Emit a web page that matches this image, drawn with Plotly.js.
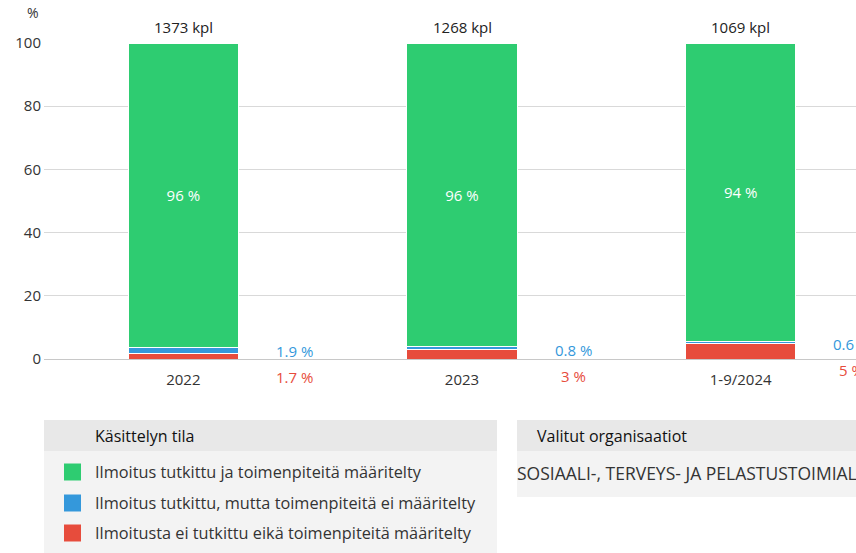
<!DOCTYPE html>
<html><head><meta charset="utf-8">
<script src="https://cdn.plot.ly/plotly-3.0.1.min.js"></script>
<style>html,body{margin:0;padding:0;overflow:hidden;background:#fff;width:856px;height:553px}</style>
</head><body><div id="chart"></div>
<script>
const categories = ["2022", "2023", "1-9/2024"];
const totals = ["1373 kpl", "1268 kpl", "1069 kpl"];
const seriesNames = ["Ilmoitus tutkittu ja toimenpiteitä määritelty",
                     "Ilmoitus tutkittu, mutta toimenpiteitä ei määritelty",
                     "Ilmoitusta ei tutkittu eikä toimenpiteitä määritelty"];
const colors = ["#2ecc71", "#3498db", "#e74c3c"];
const green = [96.4, 96.2, 94.4];
const blue = [1.9, 0.8, 0.6];
const red = [1.7, 3, 5];
const greenLabels = ["96 %", "96 %", "94 %"];
const blueLabels = ["1.9 %", "0.8 %", "0.6 %"];
const redLabels = ["1.7 %", "3 %", "5 %"];
const legendTitle = "Käsittelyn tila";
const orgTitle = "Valitut organisaatiot";
const orgText = "SOSIAALI-, TERVEYS- JA PELASTUSTOIMIALA";

const W = 900, H = 553, L = 44, T = 43, R = 20, B = 194;
const PW = W - L - R, PH = H - T - B;
const px = x => (x - L) / PW;
const py = y => (H - B - y) / PH;
const font = "Open Sans, sans-serif";

const mk = (y, i, text, showText) => ({
  type: "bar", x: categories, y: y, name: seriesNames[i],
  marker: {color: colors[i], line: {color: "#ffffff", width: 1}},
  width: 0.395,
  text: showText ? text : undefined,
  texttemplate: showText ? "%{text}" : undefined,
  textposition: showText ? "inside" : "none",
  insidetextanchor: "middle",
  textfont: {color: "#ffffff", size: 15, family: font},
  hoverinfo: "skip", showlegend: false
});
const data = [mk(red, 2, redLabels, false), mk(blue, 1, blueLabels, false), mk(green, 0, greenLabels, true)];

const annotations = [];
annotations.push({xref: "paper", yref: "paper", x: px(33), y: py(13), text: "%", showarrow: false,
  font: {family: font, size: 14, color: "#333"}, xanchor: "center", yanchor: "middle"});
categories.forEach((c, i) => {
  annotations.push({x: i, y: 100, text: totals[i], showarrow: false, yanchor: "middle", yshift: 16,
    font: {family: font, size: 15, color: "#222"}});
  const top = red[i] + blue[i];
  annotations.push({x: i, y: top, text: blueLabels[i], showarrow: false, xshift: 111, yshift: -3,
    xanchor: "center", yanchor: "middle", font: {family: font, size: 15, color: colors[1]}});
  annotations.push({x: i, y: top, text: redLabels[i], showarrow: false, xshift: 111, yshift: -29,
    xanchor: "center", yanchor: "middle", font: {family: font, size: 15, color: colors[2]}});
});

const shapes = [
  {type: "rect", xref: "paper", yref: "paper", x0: px(44), x1: px(497), y0: py(553), y1: py(451), fillcolor: "#f3f3f3", line: {width: 0}, layer: "below"},
  {type: "rect", xref: "paper", yref: "paper", x0: px(44), x1: px(497), y0: py(451), y1: py(420), fillcolor: "#e8e8e8", line: {width: 0}, layer: "below"},
  {type: "rect", xref: "paper", yref: "paper", x0: px(517), x1: px(900), y0: py(497), y1: py(451), fillcolor: "#f3f3f3", line: {width: 0}, layer: "below"},
  {type: "rect", xref: "paper", yref: "paper", x0: px(517), x1: px(900), y0: py(451), y1: py(420), fillcolor: "#e8e8e8", line: {width: 0}, layer: "below"}
];
annotations.push({xref: "paper", yref: "paper", x: px(93), y: py(436), text: legendTitle, showarrow: false,
  xanchor: "left", yanchor: "middle", font: {family: font, size: 16, color: "#111", weight: 500}});
annotations.push({xref: "paper", yref: "paper", x: px(535), y: py(436), text: orgTitle, showarrow: false,
  xanchor: "left", yanchor: "middle", font: {family: font, size: 16, color: "#111", weight: 500}});
annotations.push({xref: "paper", yref: "paper", x: px(515), y: py(473), text: orgText, showarrow: false,
  xanchor: "left", yanchor: "middle", font: {family: font, size: 17.5, color: "#333"}});
const rowY = [472, 503, 533];
seriesNames.forEach((n, i) => {
  shapes.push({type: "rect", xref: "paper", yref: "paper", x0: px(64), x1: px(81), y0: py(rowY[i] + 8.5), y1: py(rowY[i] - 8.5),
    fillcolor: colors[i], line: {width: 0}});
  annotations.push({xref: "paper", yref: "paper", x: px(93), y: py(rowY[i]), text: n, showarrow: false,
    xanchor: "left", yanchor: "middle", font: {family: font, size: 16.3, color: "#333"}});
});

const layout = {
  width: W, height: H, margin: {l: L, r: R, t: T, b: B},
  barmode: "stack", paper_bgcolor: "#ffffff", plot_bgcolor: "#ffffff",
  font: {family: font, size: 15, color: "#333"},
  xaxis: {type: "category", range: [-0.5, 2.5], showgrid: false, zeroline: false, showline: false,
    ticks: "", ticklabelstandoff: 10, tickfont: {size: 15, color: "#333"}, fixedrange: true},
  yaxis: {range: [0, 100], tickvals: [0, 20, 40, 60, 80, 100], gridcolor: "#d9d9d9", gridwidth: 1,
    zeroline: true, zerolinecolor: "#c8c8c8", zerolinewidth: 1, showline: false, ticks: "",
    tickfont: {size: 15, color: "#333"}, ticklabelstandoff: 2, fixedrange: true},
  annotations: annotations, shapes: shapes, showlegend: false
};
Plotly.newPlot("chart", data, layout, {displayModeBar: false, staticPlot: true});
</script></body></html>
